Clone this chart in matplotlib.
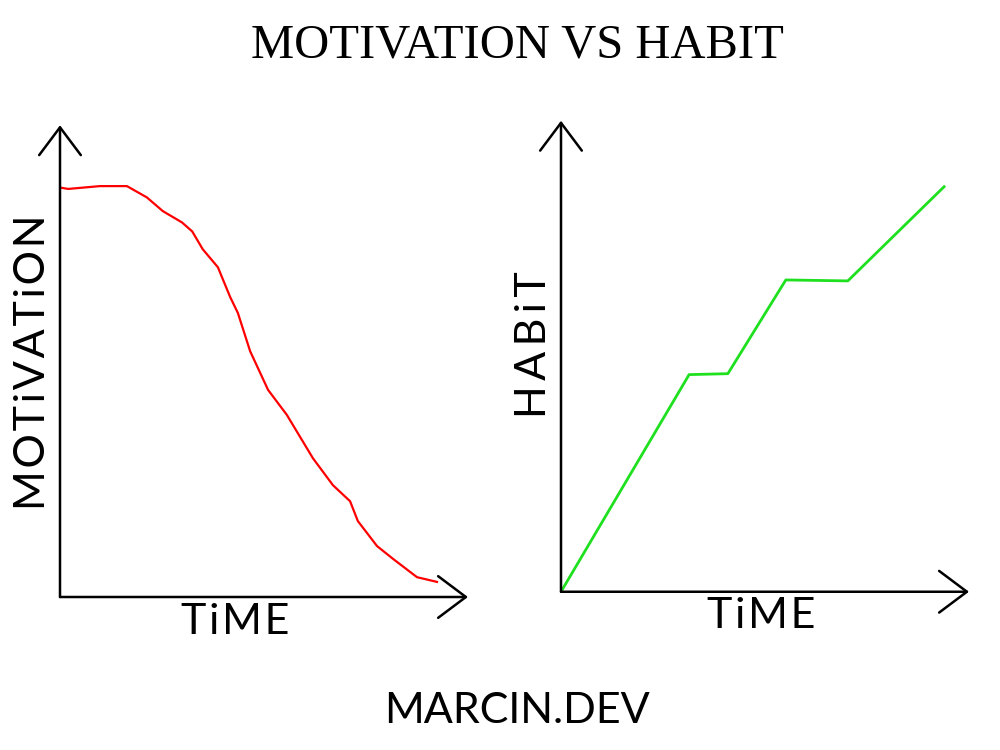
import matplotlib.pyplot as plt

# motivation curve (left panel)
time_m = [0, 2.0, 9.8, 16.4, 21.3, 25.2, 29.9, 32.4, 35.0, 38.7, 41.7, 43.6,
          46.6, 51.0, 55.6, 62.0, 66.9, 71.1, 73.0, 77.7, 81.6, 87.5, 92.4]
motivation = [86.8, 86.5, 87.1, 87.1, 84.7, 81.8, 79.4, 77.5, 73.7, 69.9, 63.6, 60.2,
              52.1, 43.9, 38.6, 29.4, 23.7, 20.3, 16.1, 10.8, 8.1, 4.2, 3.2]

# habit curve (right panel)
time_h = [0, 31.4, 40.9, 55.1, 70.3, 93.9]
habit = [0, 46.1, 46.3, 66.2, 66.0, 86.0]

title = "MOTIVATION VS HABIT"
footer = "MARCIN.DEV"
hand = dict(family=["Lato", "DejaVu Sans"], weight="normal", color="black")


def spaced(word, gap):
    return gap.join(word)


def sketch_axes(ax, ylabel, gap, xlab_x, ylab_y):
    ax.set_xlim(0, 100)
    ax.set_ylim(0, 100)
    ax.axis("off")
    arrow = dict(arrowstyle="->,head_length=2.0,head_width=1.5", lw=1.8,
                 color="black", shrinkA=0, shrinkB=0)
    ax.annotate("", xy=(0, 100), xytext=(0, 0), arrowprops=arrow,
                annotation_clip=False)
    ax.annotate("", xy=(100, 0), xytext=(0, 0), arrowprops=arrow,
                annotation_clip=False)
    ax.text(xlab_x, -5.2, spaced("TiME", "\u200a"), ha="center", va="center",
            fontsize=31, **hand)
    ax.text(-6.5, ylab_y, spaced(ylabel, gap), ha="center", va="center",
            rotation=90, fontsize=31, **hand)


fig = plt.figure(figsize=(10, 7.5), dpi=100)

ax1 = fig.add_axes([0.06, 0.204, 0.408, 0.629])
sketch_axes(ax1, "MOTiVATiON", "\u200a", 43, 49.8)
ax1.plot(time_m, motivation, color="#ff0000", lw=1.6, solid_joinstyle="round")

ax2 = fig.add_axes([0.561, 0.211, 0.408, 0.628])
sketch_axes(ax2, "HABiT", "\u2009", 49, 52.5)
ax2.plot(time_h, habit, color="#1fe01f", lw=2.0)

fig.text(0.517, 0.94, title, ha="center", va="center", fontsize=35,
         family="Liberation Serif")
fig.text(0.517, 0.052, footer, ha="center", va="center", fontsize=31, **hand)

fig.savefig("out.png", dpi=100, facecolor="white")
